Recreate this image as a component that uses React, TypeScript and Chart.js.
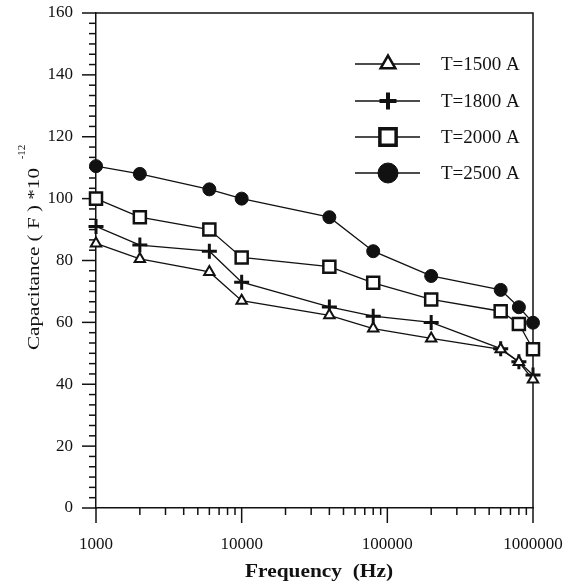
import React, { useEffect, useRef } from 'react';
import { Chart, registerables } from 'chart.js';
import { drawPoint } from 'chart.js/helpers';

Chart.register(...registerables);

const frequencies = [1000, 2000, 6000, 10000, 40000, 80000, 200000, 600000, 800000, 1000000];
const t1500 = [85.5, 80.5, 76.3, 67, 62.3, 58, 54.8, 51.3, 47.2, 41.5];
const t1800 = [91, 85, 83, 73, 65, 62, 60, 51.5, 47.3, 43];
const t2000 = [100, 94, 90, 81, 78, 72.8, 67.4, 63.6, 59.5, 51.3];
const t2500 = [110.5, 108, 103, 100, 94, 83, 75, 70.5, 64.9, 59.9];
const seriesLabels = ['T=1500 A', 'T=1800 A', 'T=2000 A', 'T=2500 A'];
const yMajorTicks = [0, 20, 40, 60, 80, 100, 120, 140, 160];
const xDecadeTicks = [1000, 10000, 100000, 1000000];
const xTitle = 'Frequency  (Hz)';
const yTitle = 'Capacitance ( F ) *10';
const yTitleExp = '-12';

const FONT = '"Liberation Serif", "Times New Roman", serif';
const INK = '#111';

const markerStyles = [
  { pointStyle: 'triangle', radius: 6, borderWidth: 2, bg: '#fff', legendRadius: 8.5, legendBorder: 2.5 },
  { pointStyle: 'cross', radius: 7.5, borderWidth: 3, bg: INK, legendRadius: 8.5, legendBorder: 4 },
  { pointStyle: 'rect', radius: 8.5, borderWidth: 2.5, bg: '#fff', legendRadius: 11.5, legendBorder: 3.5 },
  { pointStyle: 'circle', radius: 6.5, borderWidth: 1, bg: INK, legendRadius: 10, legendBorder: 1 },
];

const zeroPadding = (s: any) => {
  s.paddingLeft = 0;
  s.paddingRight = 0;
  s.paddingTop = 0;
  s.paddingBottom = 0;
};

const decorPlugin = {
  id: 'decor',
  beforeDatasetsDraw(chart: any) {
    const ctx = chart.ctx;
    const xs = chart.scales.x;
    const ys = chart.scales.y;
    const { left, right, top, bottom } = chart.chartArea;
    ctx.save();
    ctx.strokeStyle = INK;
    ctx.lineWidth = 1.5;
    ctx.beginPath();
    ctx.moveTo(left, top);
    ctx.lineTo(right, top);
    ctx.lineTo(right, bottom);
    ctx.stroke();
    for (let i = 0; i < yMajorTicks.length; i++) {
      const py = ys.getPixelForValue(yMajorTicks[i]);
      ctx.beginPath();
      ctx.moveTo(left - 14, py);
      ctx.lineTo(left, py);
      ctx.stroke();
      if (i < yMajorTicks.length - 1) {
        const step = (yMajorTicks[i + 1] - yMajorTicks[i]) / 6;
        for (let k = 1; k < 6; k++) {
          const pm = ys.getPixelForValue(yMajorTicks[i] + k * step);
          ctx.beginPath();
          ctx.moveTo(left - 7, pm);
          ctx.lineTo(left, pm);
          ctx.stroke();
        }
      }
    }
    for (let i = 0; i < xDecadeTicks.length; i++) {
      const px = xs.getPixelForValue(xDecadeTicks[i]);
      ctx.beginPath();
      ctx.moveTo(px, bottom);
      ctx.lineTo(px, bottom + 15);
      ctx.stroke();
      if (i < xDecadeTicks.length - 1) {
        for (let m = 2; m <= 9; m++) {
          const pm = xs.getPixelForValue(xDecadeTicks[i] * m);
          ctx.beginPath();
          ctx.moveTo(pm, bottom);
          ctx.lineTo(pm, bottom + 7);
          ctx.stroke();
        }
      }
    }
    ctx.restore();
  },
  afterDraw(chart: any) {
    const ctx = chart.ctx;
    ctx.save();
    ctx.fillStyle = INK;
    ctx.strokeStyle = INK;

    const rowY = [64, 101, 137, 173];
    chart.data.datasets.forEach((ds: any, i: number) => {
      const y = rowY[i];
      ctx.lineWidth = 1.5;
      ctx.strokeStyle = INK;
      ctx.beginPath();
      ctx.moveTo(355, y);
      ctx.lineTo(420, y);
      ctx.stroke();
      const ms = markerStyles[i];
      ctx.fillStyle = ms.bg;
      ctx.strokeStyle = INK;
      ctx.lineWidth = ms.legendBorder;
      drawPoint(ctx, { pointStyle: ms.pointStyle, radius: ms.legendRadius, rotation: 0, borderWidth: ms.legendBorder } as any, 388, y);
      ctx.fillStyle = INK;
      ctx.font = '19px ' + FONT;
      ctx.textAlign = 'left';
      ctx.textBaseline = 'middle';
      ctx.fillText(ds.label, 441, y + 1);
    });

    ctx.save();
    ctx.font = 'bold 18px ' + FONT;
    const wx = ctx.measureText(xTitle).width;
    ctx.translate(319, 572);
    ctx.scale(148 / wx, 1);
    ctx.textAlign = 'center';
    ctx.textBaseline = 'middle';
    ctx.fillText(xTitle, 0, 0);
    ctx.restore();

    ctx.save();
    ctx.font = '17px ' + FONT;
    const wy = ctx.measureText(yTitle).width;
    ctx.translate(35, 259);
    ctx.rotate(-Math.PI / 2);
    ctx.scale(182 / wy, 1);
    ctx.textAlign = 'center';
    ctx.textBaseline = 'middle';
    ctx.fillText(yTitle, 0, 0);
    ctx.restore();

    ctx.save();
    ctx.font = '11px ' + FONT;
    ctx.translate(22, 152);
    ctx.rotate(-Math.PI / 2);
    ctx.textAlign = 'center';
    ctx.textBaseline = 'middle';
    ctx.fillText(yTitleExp, 0, 0);
    ctx.restore();

    ctx.restore();
  },
};

export default function App() {
  const canvasRef = useRef<HTMLCanvasElement | null>(null);

  useEffect(() => {
    document.body.style.margin = '0';
    document.body.style.background = '#fff';
    const canvas = canvasRef.current;
    if (!canvas) return;
    const seriesValues = [t1500, t1800, t2000, t2500];
    const datasets = seriesValues.map((vals, i) => {
      const ms = markerStyles[i];
      return {
        label: seriesLabels[i],
        data: frequencies.map((f, j) => ({ x: f, y: vals[j] })),
        borderColor: INK,
        borderWidth: 1.3,
        backgroundColor: ms.bg,
        pointStyle: ms.pointStyle,
        pointRadius: ms.radius,
        pointBorderWidth: ms.borderWidth,
        pointBorderColor: INK,
        pointBackgroundColor: ms.bg,
        fill: false,
        tension: 0,
        clip: false,
      };
    });
    const chart = new Chart(canvas, {
      type: 'line',
      data: { datasets },
      options: {
        responsive: false,
        animation: false,
        devicePixelRatio: 1,
        layout: { padding: { top: 13, right: 47, left: 0, bottom: 0 } },
        plugins: { legend: { display: false }, tooltip: { enabled: false } },
        scales: {
          x: {
            type: 'logarithmic',
            min: 1000,
            max: 1000000,
            grid: { display: false, drawTicks: false },
            border: { display: true, color: INK, width: 1.5 },
            afterBuildTicks: (s: any) => {
              s.ticks = xDecadeTicks.map((v) => ({ value: v }));
            },
            ticks: {
              autoSkip: false,
              maxRotation: 0,
              padding: 26,
              color: INK,
              font: { family: FONT, size: 17 },
              callback: (v: any) => String(v),
            },
            afterFit: (s: any) => {
              s.height = 77;
              zeroPadding(s);
            },
          },
          y: {
            type: 'linear',
            min: 0,
            max: 160,
            grid: { display: false, drawTicks: false },
            border: { display: true, color: INK, width: 1.5 },
            afterBuildTicks: (s: any) => {
              s.ticks = yMajorTicks.map((v) => ({ value: v }));
            },
            ticks: {
              padding: 23,
              color: INK,
              font: { family: FONT, size: 17 },
              callback: (v: any) => String(v),
            },
            afterFit: (s: any) => {
              s.width = 96;
              zeroPadding(s);
            },
          },
        },
      },
      plugins: [decorPlugin],
    } as any);
    return () => chart.destroy();
  }, []);

  return <canvas ref={canvasRef} width={580} height={585} style={{ display: 'block' }} />;
}
